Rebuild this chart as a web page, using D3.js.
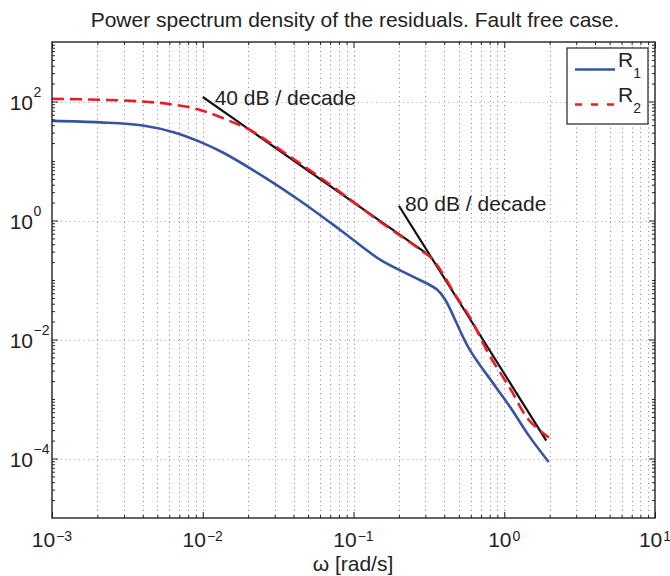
<!DOCTYPE html>
<html>
<head>
<meta charset="utf-8">
<script src="https://cdn.jsdelivr.net/npm/d3@7/dist/d3.min.js"></script>
<style>
  html, body { margin: 0; padding: 0; background: #fff; }
  svg { display: block; }
  text { font-family: "Liberation Sans", Arial, Helvetica, sans-serif; fill: #222; }
</style>
</head>
<body>
<svg id="chart" width="670" height="576"></svg>
<script>
// ---------- data ----------
const titleText = "Power spectrum density of the residuals. Fault free case.";
const xLabelText = "ω [rad/s]";

// R1 (blue, solid)
const r1Omega = [0.001, 0.0021, 0.004, 0.0064, 0.0096, 0.0136, 0.0267, 0.0442, 0.0813, 0.15, 0.248, 0.358, 0.405, 0.587, 0.881, 1.125, 1.46, 1.97];
const r1Psd   = [47.2, 44.5, 39.5, 30.5, 21.0, 13.9, 5.02, 2.15, 0.70, 0.22, 0.114, 0.069, 0.047, 0.0069, 0.00158, 0.00066, 0.00024, 0.0000873];

// R2 (red, dashed)
const r2Omega = [0.001, 0.0021, 0.004, 0.0061, 0.0096, 0.0159, 0.0206, 0.0292, 0.0618, 0.150, 0.289, 0.337, 0.486, 0.593, 0.793, 1.09, 1.46, 1.98];
const r2Psd   = [110.7, 107, 100, 90, 72.3, 44.5, 33.3, 18.7, 5.02, 0.955, 0.300, 0.220, 0.0507, 0.0234, 0.0056, 0.00152, 0.00044, 0.000225];

// asymptote segments
const slope40Omega = [0.01, 0.30];
const slope40Psd   = [119, 0.288];
const slope80Omega = [0.2, 1.9];
const slope80Psd   = [1.77, 0.0002];

// annotations: [label, omega, psd]
const notes = [["40 dB / decade", 0.012, 88], ["80 dB / decade", 0.22, 1.46]];

// ticks
const xTickExps = [-3, -2, -1, 0, 1];
const yTickExps = [-4, -2, 0, 2];
const legendLabels = [["R", "1"], ["R", "2"]];

// ---------- layout ----------
const L = 52, R = 655, T = 42, B = 518;
const blue = "#3953a4", red = "#ed1c24";

const svg = d3.select("#chart");
const x = d3.scaleLog().domain([1e-3, 1e1]).range([L, R]);
const y = d3.scaleLog().domain([1e-5, 1e3]).range([B, T]);

const xMajor = xTickExps.map(e => Math.pow(10, e));
const xMinor = [];
for (let e = -3; e < 1; e++) for (let k = 2; k <= 9; k++) xMinor.push(k * Math.pow(10, e));
const yMajor = yTickExps.map(e => Math.pow(10, e));
const yMinor = [];
for (let e = -5; e < 3; e++) {
  for (let k = 1; k <= 9; k++) {
    if (k === 1 && yTickExps.includes(e)) continue;
    if (e === -5 && k === 1) continue;
    yMinor.push(k * Math.pow(10, e));
  }
}

// ---------- grid ----------
const grid = svg.append("g").attr("stroke", "#8a8a8a").attr("stroke-width", 1)
  .attr("stroke-dasharray", "1,3.5").attr("fill", "none");
grid.selectAll("line.gx").data(xMajor.slice(1, -1).concat(xMinor)).enter().append("line")
  .attr("x1", d => Math.round(x(d)) + 0.5).attr("x2", d => Math.round(x(d)) + 0.5)
  .attr("y1", T).attr("y2", B);
grid.selectAll("line.gy").data(yMajor).enter().append("line")
  .attr("y1", d => Math.round(y(d)) + 0.5).attr("y2", d => Math.round(y(d)) + 0.5)
  .attr("x1", L).attr("x2", R).attr("stroke", "#a8a8a8");

// ---------- asymptotes ----------
const lineGen = d3.line().x(d => x(d[0])).y(d => y(d[1]));
[[slope40Omega, slope40Psd], [slope80Omega, slope80Psd]].forEach(([w, p]) => {
  svg.append("path").datum(d3.zip(w, p)).attr("d", lineGen)
    .attr("stroke", "#111").attr("stroke-width", 2.2).attr("fill", "none");
});

// ---------- curves ----------
const curveGen = d3.line().x(d => x(d[0])).y(d => y(d[1])).curve(d3.curveCatmullRom.alpha(0.5));
svg.append("path").datum(d3.zip(r1Omega, r1Psd)).attr("d", curveGen)
  .attr("stroke", blue).attr("stroke-width", 2.6).attr("fill", "none");
svg.append("path").datum(d3.zip(r2Omega, r2Psd)).attr("d", curveGen)
  .attr("stroke", red).attr("stroke-width", 2.6).attr("fill", "none")
  .attr("stroke-dasharray", "12,6");

// ---------- annotations ----------
notes.forEach(([t, w, p]) => {
  svg.append("text").attr("x", x(w)).attr("y", y(p)).attr("font-size", 21).text(t);
});

// ---------- axes ticks ----------
function styleAxis(g) {
  g.select(".domain").remove();
  g.selectAll(".tick line").attr("stroke", "#222").attr("stroke-width", 1);
  g.selectAll(".tick text").remove();
}
svg.append("g").attr("transform", `translate(0,${B})`)
  .call(d3.axisBottom(x).tickValues(xMajor).tickSize(-6).tickFormat("")).call(styleAxis);
svg.append("g").attr("transform", `translate(0,${B})`)
  .call(d3.axisBottom(x).tickValues(xMinor).tickSize(-3).tickFormat("")).call(styleAxis);
svg.append("g").attr("transform", `translate(0,${T})`)
  .call(d3.axisTop(x).tickValues(xMajor).tickSize(-6).tickFormat("")).call(styleAxis);
svg.append("g").attr("transform", `translate(0,${T})`)
  .call(d3.axisTop(x).tickValues(xMinor).tickSize(-3).tickFormat("")).call(styleAxis);
svg.append("g").attr("transform", `translate(${L},0)`)
  .call(d3.axisLeft(y).tickValues(yMajor).tickSize(-6).tickFormat("")).call(styleAxis);
svg.append("g").attr("transform", `translate(${L},0)`)
  .call(d3.axisLeft(y).tickValues(yMinor).tickSize(-3).tickFormat("")).call(styleAxis);
svg.append("g").attr("transform", `translate(${R},0)`)
  .call(d3.axisRight(y).tickValues(yMajor).tickSize(-6).tickFormat("")).call(styleAxis);
svg.append("g").attr("transform", `translate(${R},0)`)
  .call(d3.axisRight(y).tickValues(yMinor).tickSize(-3).tickFormat("")).call(styleAxis);

// box
svg.append("rect").attr("x", L).attr("y", T).attr("width", R - L).attr("height", B - T)
  .attr("fill", "none").attr("stroke", "#222").attr("stroke-width", 1.4);

// ---------- tick labels ----------
function expStr(e) { return e < 0 ? "\u2212" + Math.abs(e) : String(e); }
xTickExps.forEach(e => {
  const t = svg.append("text").attr("x", x(Math.pow(10, e))).attr("y", 547)
    .attr("text-anchor", "middle").attr("font-size", 21);
  t.append("tspan").text("10");
  t.append("tspan").attr("font-size", 14).attr("dx", 1).attr("dy", -6).text(expStr(e));
});
yTickExps.forEach(e => {
  const yy = y(Math.pow(10, e));
  svg.append("text").attr("x", 33).attr("y", yy + 8.5).attr("text-anchor", "end")
    .attr("font-size", 21).text("10");
  svg.append("text").attr("x", 33.5).attr("y", yy - 4.5).attr("font-size", 14).text(expStr(e));
});

// ---------- title / axis label ----------
svg.append("text").attr("x", 355).attr("y", 27).attr("text-anchor", "middle")
  .attr("font-size", 21).text(titleText);
svg.append("text").attr("x", 353).attr("y", 571).attr("text-anchor", "middle")
  .attr("font-size", 21).text(xLabelText);

// ---------- legend ----------
const lg = svg.append("g");
lg.append("rect").attr("x", 567).attr("y", 48).attr("width", 81).attr("height", 76)
  .attr("fill", "#fff").attr("stroke", "#222").attr("stroke-width", 1.2);
const legendStyles = [{ c: blue, dash: null, y: 69.5 }, { c: red, dash: "7,9", y: 104.5 }];
legendLabels.forEach((lab, i) => {
  const s = legendStyles[i];
  const ln = lg.append("line").attr("x1", 575).attr("x2", 615).attr("y1", s.y).attr("y2", s.y)
    .attr("stroke", s.c).attr("stroke-width", 2.6);
  if (s.dash) ln.attr("stroke-dasharray", s.dash);
  const t = lg.append("text").attr("x", 618).attr("y", s.y - 2.5).attr("font-size", 21);
  t.append("tspan").text(lab[0]);
  t.append("tspan").attr("font-size", 14).attr("dy", 11).text(lab[1]);
});
</script>
</body>
</html>
